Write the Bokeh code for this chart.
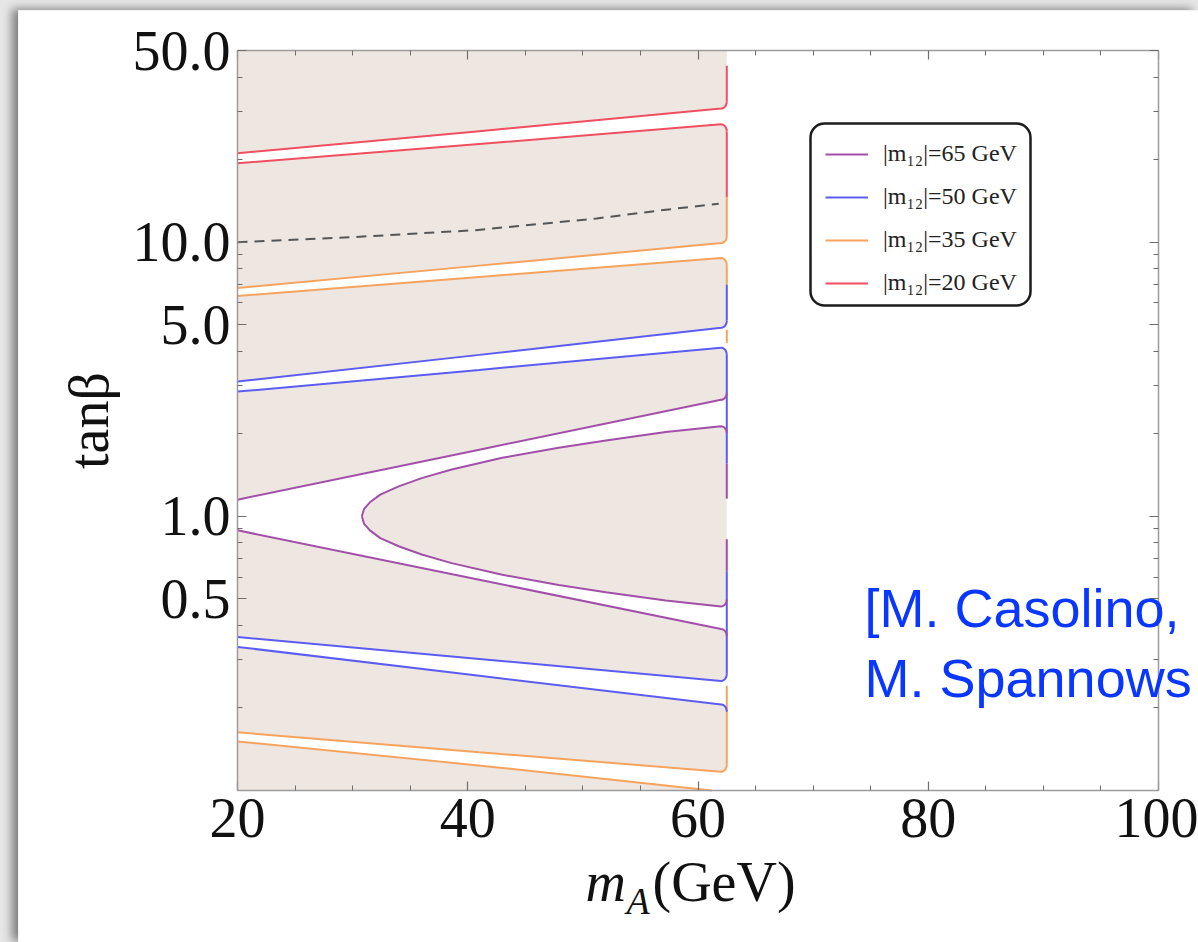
import numpy as np
from bokeh.embed import file_html
from bokeh.layouts import column
from bokeh.models import (BoxAnnotation, CustomJSTickFormatter, FixedTicker, Label, Legend,
                          LegendItem, LinearAxis, LogAxis, PrintfTickFormatter, Range1d)
from bokeh.plotting import figure
from bokeh.resources import INLINE

# ---------------- axes ----------------
MA_RANGE = (20, 100)
TB_RANGE = (0.1, 50)
MA_EDGE = 62.5  # mA = mh / 2

x_major = [20, 40, 60, 80, 100]
x_minor = [25, 30, 35, 45, 50, 55, 65, 70, 75, 85, 90, 95]
y_major = [0.5, 1.0, 5.0, 10.0, 50.0]
y_minor = [0.2, 0.3, 0.4, 0.6, 0.7, 0.8, 0.9, 2, 3, 4, 6, 7, 8, 9, 20, 30, 40]

# ---------------- contour lines (mA [GeV], tan beta) ----------------
ma_3 = [20, 41, 62]
red_hi = [21.1, 25.4, 30.7]
red_lo = [19.4, 22.8, 26.9]
orange_hi = [6.80, 8.21, 9.92]
orange_lo = [6.36, 7.46, 8.75]
blue_hi = [3.10, 3.88, 4.87]
blue_lo = [2.85, 3.42, 4.12]
purple_out_hi = [1.15, 1.75, 2.66]
purple_out_lo = [0.889, 0.587, 0.388]
blue2_hi = [0.363, 0.302, 0.251]
blue2_lo = [0.334, 0.262, 0.206]
orange2_hi = [0.163, 0.138, 0.117]
orange2_lo_ma = [20, 40.5, 61.2]
orange2_lo = [0.151, 0.124, 0.1]

purple_in_ma = [30.8, 31.0, 31.5, 32.4, 34, 36, 38.6, 43, 47.9, 52, 57.2, 62]
purple_in_hi = [1.0, 1.065, 1.125, 1.20, 1.286, 1.378, 1.481, 1.635, 1.78, 1.89, 2.03, 2.13]
purple_in_lo = [1.0, 0.939, 0.889, 0.833, 0.778, 0.726, 0.675, 0.612, 0.562, 0.529, 0.493, 0.469]

# tan beta = 10 reference curve (dashed)
tb10_ma = [20, 30, 40.7, 51.2, 57, 61.8]
tb10 = [10.0, 10.43, 11.06, 12.2, 13.1, 13.8]

m12_labels = ["|m₁₂|=65 GeV", "|m₁₂|=50 GeV", "|m₁₂|=35 GeV", "|m₁₂|=20 GeV"]

# ---------------- styles ----------------
COLORS = {"purple": "#A24FA9", "blue": "#5C5CF2", "orange": "#F6A35E", "red": "#EF4F60"}
FILL = "#EEE7E1"
FRAME = "#9c9c9c"
SERIF = "Liberation Serif"

# name -> (mA, tanb, colour, corner direction at the mA edge)
contours = {
    "red_hi": (ma_3, red_hi, "red", +1),
    "red_lo": (ma_3, red_lo, "red", -1),
    "orange_hi": (ma_3, orange_hi, "orange", +1),
    "orange_lo": (ma_3, orange_lo, "orange", -1),
    "blue_hi": (ma_3, blue_hi, "blue", +1),
    "blue_lo": (ma_3, blue_lo, "blue", -1),
    "purple_out_hi": (ma_3, purple_out_hi, "purple", +1),
    "purple_in_hi": (purple_in_ma, purple_in_hi, "purple", -1),
    "purple_in_lo": (purple_in_ma, purple_in_lo, "purple", +1),
    "purple_out_lo": (ma_3, purple_out_lo, "purple", -1),
    "blue2_hi": (ma_3, blue2_hi, "blue", +1),
    "blue2_lo": (ma_3, blue2_lo, "blue", -1),
    "orange2_hi": (ma_3, orange2_hi, "orange", +1),
    "orange2_lo": (orange2_lo_ma, orange2_lo, "orange", 0),
}

# allowed regions: (upper boundary, lower boundary)
regions = [(None, "red_hi"), ("red_lo", "orange_hi"), ("orange_lo", "blue_hi"),
           ("blue_lo", "purple_out_hi"), ("purple_in_hi", "purple_in_lo"),
           ("purple_out_lo", "blue2_hi"), ("blue2_lo", "orange2_hi"), ("orange2_lo", None)]

# boundary pieces along mA = mh/2
edge_segments = [("red_hi", 44.0, "red"), ("red_lo", 14.6, "red"), (14.6, "orange_hi", "orange"),
                 ("orange_lo", 7.0, "orange"), (7.0, "blue_hi", "blue"), (4.79, 4.29, "orange"),
                 ("blue_lo", 1.56, "blue"), (1.56, 1.16, "purple"), (0.825, 0.631, "purple"),
                 (0.631, "blue2_hi", "blue"), (0.241, "orange2_hi", "orange")]

CORNER_DLOG = 0.026


def path(name):
    ma, tb, _, turn = contours[name]
    ma, tb = list(ma), list(tb)
    if turn:
        th = np.linspace(0, np.pi / 2, 9)[1:]
        ma += list(ma[-1] + (MA_EDGE - ma[-1]) * np.sin(th))
        tb += list(10 ** (np.log10(tb[-1]) + turn * CORNER_DLOG * (1 - np.cos(th))))
    return ma, tb


def edge_value(v):
    return path(v)[1][-1] if isinstance(v, str) else v


# ---------------- page layout (pixels) ----------------
PAGE_W, PAGE_H = 1198, 942
PAGE_DX, PAGE_DY = 18, 10          # slide offset inside the page
W, H = PAGE_W - PAGE_DX, PAGE_H - PAGE_DY
BOX_L, BOX_R, BOX_T, BOX_B = 237, 1158, 50, 790   # axes box on the page


def ma_at(px):
    return MA_RANGE[0] + (px - BOX_L) * (MA_RANGE[1] - MA_RANGE[0]) / (BOX_R - BOX_L)


def tb_at(py):
    lo, hi = np.log10(TB_RANGE[0]), np.log10(TB_RANGE[1])
    return 10 ** (hi - (py - BOX_T) * (hi - lo) / (BOX_B - BOX_T))


# the drawing frame spans the whole canvas; the axes sit at fixed data locations
p = figure(width=W, height=H,
           x_range=Range1d(ma_at(PAGE_DX), ma_at(PAGE_W)),
           y_range=Range1d(tb_at(PAGE_H), tb_at(PAGE_DY)),
           y_axis_type="log", output_backend="svg", toolbar_location=None,
           min_border=0, background_fill_color="white", border_fill_color="white")
p.margin = (PAGE_DY, 0, 0, PAGE_DX)
p.styles = {"box-shadow": "-6px -1px 9px rgba(0,0,0,0.45)"}
p.outline_line_color = None
p.xgrid.visible = False
p.ygrid.visible = False

# shaded allowed regions
xs, ys = [], []
for top, bot in regions:
    tma, ttb = path(top) if top else ([MA_RANGE[0], MA_EDGE], [TB_RANGE[1]] * 2)
    bma, btb = path(bot) if bot else ([MA_RANGE[0], MA_EDGE], [TB_RANGE[0]] * 2)
    xs.append(tma + bma[::-1])
    ys.append(ttb + btb[::-1])
p.patches(xs, ys, fill_color=FILL, line_color=None)

# region boundaries on the mA edge
for a, b, c in edge_segments:
    p.line([MA_EDGE, MA_EDGE], [edge_value(a), edge_value(b)], line_color=COLORS[c], line_width=2)

renderers = {}
for name in contours:
    ma, tb = path(name)
    c = contours[name][2]
    r = p.line(ma, tb, line_color=COLORS[c], line_width=2)
    renderers.setdefault(c, r)

p.line(tb10_ma, tb10, line_color="#555555", line_width=2, line_dash="10 7")


# ---------------- axes ----------------
def style_axis(ax, labels=True):
    ax.axis_line_color = FRAME
    ax.axis_line_width = 1.5
    ax.major_tick_in = 9
    ax.major_tick_out = 0
    ax.minor_tick_in = 5
    ax.minor_tick_out = 0
    ax.major_tick_line_color = "#6e6e6e"
    ax.minor_tick_line_color = "#6e6e6e"
    ax.major_tick_line_width = 1.2
    ax.minor_tick_line_width = 1
    if labels:
        ax.major_label_text_font = SERIF
        ax.major_label_text_font_size = "56px"
        ax.major_label_text_color = "#111111"
        ax.major_label_standoff = 8
    else:
        ax.formatter = CustomJSTickFormatter(code="return ''")
        ax.major_label_text_font_size = "1px"
        ax.major_label_standoff = 0


xaxis = p.below[0]
xaxis.ticker = FixedTicker(ticks=x_major, minor_ticks=x_minor)
xaxis.fixed_location = TB_RANGE[0]
xaxis.bounds = MA_RANGE
style_axis(xaxis)

yaxis = p.left[0]
yaxis.ticker = FixedTicker(ticks=y_major, minor_ticks=y_minor)
yaxis.formatter = PrintfTickFormatter(format="%.1f")
yaxis.fixed_location = MA_RANGE[0]
yaxis.bounds = TB_RANGE
style_axis(yaxis)
yaxis.major_label_standoff = 7
yaxis.axis_label = "tanβ"
yaxis.axis_label_text_font = SERIF
yaxis.axis_label_text_font_size = "56px"
yaxis.axis_label_text_font_style = "normal"
yaxis.axis_label_text_color = "#111111"
yaxis.axis_label_standoff = 10

top_axis = LinearAxis(ticker=FixedTicker(ticks=x_major, minor_ticks=x_minor),
                      fixed_location=TB_RANGE[1], bounds=MA_RANGE)
style_axis(top_axis, labels=False)
p.add_layout(top_axis, "above")
right_axis = LogAxis(ticker=FixedTicker(ticks=y_major, minor_ticks=y_minor),
                     fixed_location=MA_RANGE[1], bounds=TB_RANGE)
style_axis(right_axis, labels=False)
p.add_layout(right_axis, "right")


def canvas_label(text, px, py, **kw):
    """Text placed in canvas pixels (page position minus the slide offset)."""
    return Label(x=px - PAGE_DX, y=py - PAGE_DY, x_units="canvas", y_units="canvas",
                 text=text, text_baseline="alphabetic", **kw)


# x-axis title: m_A(GeV)
for txt, px, py, size, style in [("m", 585, 881, "56px", "italic"), ("A", 626, 900, "38px", "italic"),
                                 ("(GeV)", 652, 881, "56px", "normal")]:
    p.add_layout(canvas_label(txt, px, py, text_font=SERIF, text_font_size=size,
                              text_font_style=style, text_color="#111111"))

# ---------------- legend ----------------
p.add_layout(BoxAnnotation(left=ma_at(810), right=ma_at(1030), top=tb_at(123), bottom=tb_at(305),
                           fill_color="white", fill_alpha=1, line_color="#1c1c1c", line_alpha=1,
                           line_width=2.5, border_radius=14))
legend = Legend(items=[LegendItem(label=lab, renderers=[renderers[c]])
                       for lab, c in zip(m12_labels, ["purple", "blue", "orange", "red"])],
                location=(825 - PAGE_DX, PAGE_H - 296), glyph_width=43, glyph_height=24,
                label_height=24, spacing=16, padding=14, label_standoff=15,
                label_text_font=SERIF, label_text_font_size="24px", label_text_color="#222222",
                border_line_color=None, background_fill_alpha=0)
p.add_layout(legend)

# ---------------- citation ----------------
for txt, py in [("[M. Casolino,", 607), ("M. Spannows", 677)]:
    p.add_layout(canvas_label(txt, 864, py, text_font="Liberation Sans", text_font_size="54px",
                              text_color="#0A37FF"))

page = column(p, styles={"background-color": "#e6e6e6"})
open("out.html", "w").write(file_html(page, INLINE))
